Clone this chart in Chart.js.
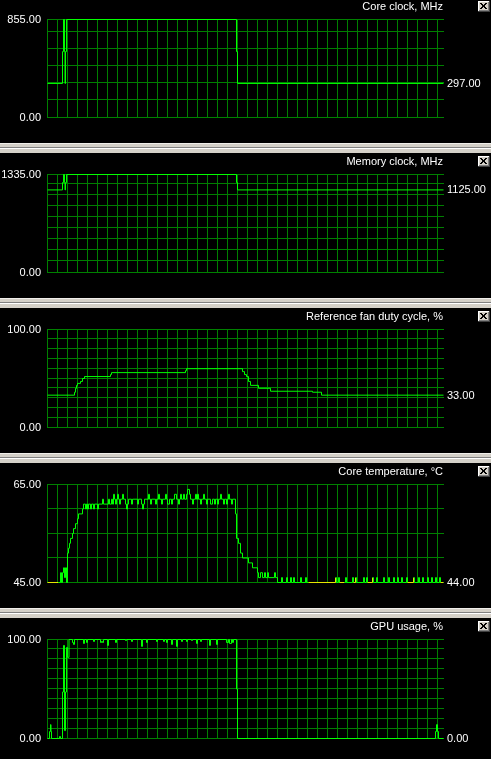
<!DOCTYPE html>
<html>
<head>
<meta charset="utf-8">
<script src="https://cdn.jsdelivr.net/npm/chart.js@4.4.1/dist/chart.umd.min.js"></script>
<style>
  html,body{margin:0;padding:0;background:#000;}
  body{width:491px;height:759px;overflow:hidden;position:relative;}
  canvas{position:absolute;left:0;}
  .sep{position:absolute;left:0;width:491px;height:10px;
    background:linear-gradient(to bottom,#f0eeea 0,#f0eeea 1px,#d4d0c8 1px,#d4d0c8 4px,#808080 4px,#808080 5px,#ffffff 5px,#ffffff 6px,#d4d0c8 6px,#d4d0c8 10px);}
</style>
</head>
<body>
<canvas id="c0" width="491" height="142" style="top:0px"></canvas>
<div class="sep" style="top:143px"></div>
<canvas id="c1" width="491" height="142" style="top:155px"></canvas>
<div class="sep" style="top:298px"></div>
<canvas id="c2" width="491" height="142" style="top:310px"></canvas>
<div class="sep" style="top:453px"></div>
<canvas id="c3" width="491" height="142" style="top:465px"></canvas>
<div class="sep" style="top:608px"></div>
<canvas id="c4" width="491" height="139" style="top:620px"></canvas>
<script>
// ---------- data (time sample, value) ----------
const titles = ['Core clock, MHz', 'Memory clock, MHz', 'Reference fan duty cycle, %', 'Core temperature, \u00B0C', 'GPU usage, %'];

const timeGrid = [0,10,20,30,40,50,60,70,80,90,100,110,120,130,140,150,160,170,180,190,200,210,220,230,240,250,260,270,280,290,300,310,320,330,340,350,360,370,380,390];

const coreTicks = [0,150,300,450,600,750,855];
const memTicks  = [0,150,300,450,600,750,900,1050,1200,1335];
const fanTicks  = [0,10,20,30,40,50,60,70,80,90,100];
const tempTicks = [45,50,55,60,65];
const gpuTicks  = [0,10,20,30,40,50,60,70,80,90,100];

const coreClock = [[0,297],[15,575],[16,855],[17,575],[17.5,297],[18,575],[19,855],[189,575],[190,297],[396,297]];

const memClock = [[0,1125],[15,1225],[16,1335],[17,1225],[17.5,1125],[18,1225],[19,1335],[189,1225],[190,1125],[396,1125]];

const fanDuty = [[0,33],[27,36],[28,40],[29,43],[30,45],[33,47],[35,50],[37,52],[63,54],[64,56],[138,58],[139,60],
  [195,57],[197,54],[199,52],[201,47],[203,43],[211,40],[223,37],[265,36],[274,33],[396,33]];

const coreTemp = [[0,44],[11,45],[13,47],[14,45],[15,47],[16,48],[17,46],[18,48],[19,45],[20,51],[21,52],[22,53],[23,54],[25,55],[26,56],[28,57],[30,58],[31,59],[35,60],[36,61],
  [38,60],[39,61],[40,60],[41,61],[43,60],[44,61],[46,60],[47,61],[50,60],[51,61],[55,62],[56,61],[61,62],[62,61],[64,62],[65,61],[66,63],[67,62],[68,61],[69,62],[70,63],[71,62],[72,61],[73,62],[75,63],[76,62],[78,61],[79,60],[80,61],[81,62],[84,61],[85,62],[90,61],[91,62],[94,61],[95,60],[96,61],[97,62],
  [101,63],[102,62],[103,61],[104,62],[108,61],[109,62],[111,63],[112,62],[114,61],[115,62],[118,63],[119,62],[120,61],[122,62],[124,61],[125,62],[127,63],[129,62],[131,61],[132,62],[133,63],[134,62],[136,63],[137,62],[139,63],[140,64],[142,63],[143,62],[145,61],[146,62],[148,63],[149,62],[150,63],[151,62],[153,61],[154,62],[156,63],[157,62],[159,61],[160,62],[163,61],[165,62],[167,61],[168,62],[170,61],[171,62],[173,63],[174,62],[176,61],[177,62],[179,61],[180,62],[181,63],[182,62],[184,61],[185,62],
  [188,59],[189,54],[191,53],[193,51],[195,50],[201,49],[205,48],[210,47],[211,46],[213,47],[215,46],[217,47],[218,46],[220,47],[221,46],[227,47],[228,46],[230,45],[234,46],[235,45],[239,46],[240,45],[243,46],[244,45],[246,46],[247,45],[253,46],[254,45],[258,46],[259,45],[261,44],
  [288,46],[289,45],[291,46],[292,44],[297,45],[298,46],[299,45],[305,46],[306,44],[308,46],[309,45],[316,46],[317,45],[319,46],[320,44],[325,46],[326,45],[329,46],[330,45],[336,46],[337,45],[341,46],[342,45],[346,46],[347,45],[350,46],[351,45],[354,46],[355,45],[359,46],[360,44],[366,46],[367,45],[371,46],[372,45],[375,46],[376,45],[380,46],[381,45],[384,46],[385,45],[388,46],[389,45],[392,46],[393,44],[396,44]];

const gpuUsage = [[0,0],[2,7],[3,14],[3.5,7],[4,0],[12,2],[13,0],[15,47],[16,94],[17,8],[18,47],[19,92],[20,82],[21.5,100],
  [25,97],[26,95],[27,100],[36,96],[37,100],[39,97],[40,100],[46,98],[47,100],[53,97],[54,98],[55,97],[56,100],[60,94],[61,100],[68,97],[69,100],[78,99],[79,100],[84,98],[85,100],[94,93],[95,100],[99,97],[100,100],[109,98],[110,100],[116,98],[117,100],[119,97],[120,100],[124,95],[125,100],[129,93],[130,100],[134,98],[135,100],[139,98],[140,100],[144,99],[145,100],[149,96],[150,100],[153,98],[154,100],[162,94],[163,100],[169,95],[170,100],[179,97],[181,100],[182,96],[184,100],[185,97],[186,100],
  [189,50],[190,0],[388,7],[389,14],[390,7],[391,0],[396,0]];

// ---------- drawing ----------
// shift the trace half a pixel so 1px lines land on whole pixel rows, and
// stroke the library's line element once more on top of the grid
const crispLines = {
  id: 'crispLines',
  beforeDatasetsDraw(chart) { chart.ctx.save(); chart.ctx.translate(0, 0.5); },
  afterDatasetsDraw(chart) { chart.ctx.restore(); },
  afterDraw(chart) {
    const ctx = chart.ctx;
    ctx.save();
    ctx.translate(0, 0.5);
    chart.getDatasetMeta(0).dataset.draw(ctx, chart.chartArea);
    ctx.restore();
  }
};

const panelText = {
  id: 'panelText',
  afterDraw(chart, args, opts) {
    const ctx = chart.ctx, a = chart.chartArea, y = chart.scales.y;
    ctx.save();
    ctx.font = '11px "Liberation Sans", Arial, sans-serif';
    ctx.fillStyle = '#ffffff';
    ctx.textBaseline = 'alphabetic';
    ctx.textAlign = 'right';
    ctx.fillText(opts.title, a.right - 1, 10);
    ctx.fillText(y.max.toFixed(2), a.left - 6, y.getPixelForValue(y.max) + 4);
    ctx.fillText(y.min.toFixed(2), a.left - 6, y.getPixelForValue(y.min) + 4);
    ctx.textAlign = 'left';
    const v = opts.last;
    ctx.fillText(v.toFixed(2), a.right + 3, y.getPixelForValue(Math.max(v, y.min)) + 4);
    // close button
    const bx = chart.width - 13, by = 1;
    ctx.fillStyle = '#d4d0c8'; ctx.fillRect(bx, by, 12, 11);
    ctx.fillStyle = '#ffffff'; ctx.fillRect(bx, by, 11, 1); ctx.fillRect(bx, by, 1, 10);
    ctx.fillStyle = '#404040'; ctx.fillRect(bx, by + 10, 12, 1); ctx.fillRect(bx + 11, by, 1, 11);
    ctx.fillStyle = '#808080'; ctx.fillRect(bx + 1, by + 9, 10, 1); ctx.fillRect(bx + 10, by + 1, 1, 9);
    ctx.fillStyle = '#000000';
    const glyph = ['11000110','01101100','00111000','00111000','01101100','11000110'];
    glyph.forEach((row, r) => { for (let c = 0; c < row.length; c++) if (row[c] === '1') ctx.fillRect(bx + 2 + c, by + 2 + r, 1, 1); });
    ctx.restore();
  }
};

function makeChart(id, series, ticks, title, bottomPad) {
  const lo = ticks[0], hi = ticks[ticks.length - 1];
  const vals = series.map(p => p[1]);
  return new Chart(document.getElementById(id), {
    type: 'line',
    data: {
      datasets: [{
        data: series.map(p => ({ x: p[0], y: Math.max(p[1], lo) })),
        borderColor: '#00ff00',
        borderWidth: 1,
        pointRadius: 0,
        stepped: true,
        fill: false,
        clip: false,
        segment: {
          borderColor: c => (vals[c.p0DataIndex] < lo ? '#e6e600' : (c.p0DataIndex % 2 ? '#00ff00' : '#02ff00'))
        }
      }]
    },
    options: {
      responsive: false,
      animation: false,
      devicePixelRatio: 1,
      events: [],
      layout: { padding: { left: 47, right: 47, top: 19, bottom: bottomPad } },
      plugins: { legend: { display: false }, tooltip: { enabled: false }, panelText: { title: title, last: vals[vals.length - 1] } },
      scales: {
        x: {
          type: 'linear', min: -0.5, max: 396.5,
          ticks: { display: false },
          grid: { color: '#008000', lineWidth: 1, drawTicks: false },
          border: { display: false },
          afterBuildTicks: s => { s.ticks = timeGrid.map(value => ({ value })); },
          afterFit: s => { s.height = 0; }
        },
        y: {
          type: 'linear', min: lo, max: hi,
          ticks: { display: false },
          grid: { color: '#008000', lineWidth: 1, drawTicks: false },
          border: { display: false },
          afterBuildTicks: s => { s.ticks = ticks.map(value => ({ value })); },
          afterFit: s => { s.width = 0; }
        }
      }
    },
    plugins: [crispLines, panelText]
  });
}

makeChart('c0', coreClock, coreTicks, titles[0], 25);
makeChart('c1', memClock, memTicks, titles[1], 25);
makeChart('c2', fanDuty, fanTicks, titles[2], 25);
makeChart('c3', coreTemp, tempTicks, titles[3], 25);
makeChart('c4', gpuUsage, gpuTicks, titles[4], 21);
</script>
</body>
</html>
